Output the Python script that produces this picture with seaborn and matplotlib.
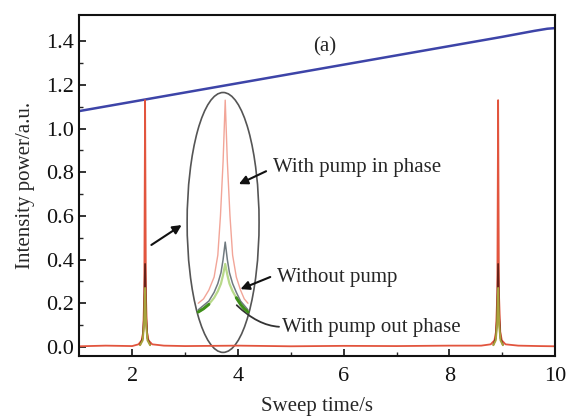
import numpy as np
import pandas as pd
import matplotlib
matplotlib.use("Agg")
import matplotlib.pyplot as plt
import seaborn as sns
from matplotlib.patches import Ellipse, FancyArrowPatch

# ---- data ----
# reference (sweep) line
ref_x = [1.0, 3.0, 5.0, 7.0, 9.0, 9.6, 9.85, 10.0]
ref_y = [1.08, 1.165, 1.25, 1.335, 1.42, 1.447, 1.457, 1.46]

# main trace, with pump in phase (red)
red_x = [1.0, 1.5, 2.0, 2.12, 2.18, 2.21, 2.23, 2.245, 2.26, 2.28, 2.31, 2.38, 2.6, 3.0,
         4.0, 5.0, 6.0, 7.0, 8.0, 8.6, 8.78, 8.85, 8.88, 8.905, 8.92, 8.935, 8.96, 8.99,
         9.06, 9.3, 9.7, 10.0]
red_y = [0.003, 0.006, 0.004, 0.012, 0.03, 0.07, 0.25, 1.13, 0.25, 0.07, 0.03, 0.012, 0.006, 0.004,
         0.006, 0.003, 0.005, 0.004, 0.006, 0.006, 0.012, 0.03, 0.07, 0.25, 1.13, 0.25, 0.07, 0.03,
         0.012, 0.006, 0.004, 0.003]
# without pump (dark)
dark_x = [2.15, 2.2, 2.225, 2.245, 2.265, 2.29, 2.34, 8.83, 8.875, 8.9, 8.92, 8.94, 8.965, 9.01]
dark_y = [0.01, 0.04, 0.13, 0.38, 0.13, 0.04, 0.01, 0.01, 0.04, 0.13, 0.38, 0.13, 0.04, 0.01]
# with pump out phase (green)
green_x = [2.15, 2.2, 2.225, 2.245, 2.265, 2.29, 2.34, 8.83, 8.875, 8.9, 8.92, 8.94, 8.965, 9.01]
green_y = [0.008, 0.03, 0.10, 0.27, 0.10, 0.03, 0.008, 0.008, 0.03, 0.10, 0.27, 0.10, 0.03, 0.008]

# inset (magnified peak inside ellipse)
in_red_x = [3.25, 3.35, 3.45, 3.55, 3.62, 3.67, 3.72, 3.76, 3.80, 3.85, 3.90, 3.97, 4.05, 4.12, 4.19]
in_red_y = [0.20, 0.22, 0.26, 0.32, 0.42, 0.60, 0.85, 1.13, 0.85, 0.60, 0.42, 0.32, 0.26, 0.22, 0.20]
in_dark_x = [3.25, 3.35, 3.45, 3.55, 3.62, 3.68, 3.72, 3.76, 3.80, 3.84, 3.90, 3.97, 4.05, 4.12, 4.19]
in_dark_y = [0.17, 0.19, 0.21, 0.25, 0.29, 0.34, 0.40, 0.48, 0.40, 0.34, 0.29, 0.25, 0.21, 0.19, 0.17]
in_green_x = [3.25, 3.35, 3.45, 3.55, 3.62, 3.68, 3.72, 3.76, 3.80, 3.84, 3.90, 3.97, 4.05, 4.12, 4.19]
in_green_y = [0.16, 0.175, 0.195, 0.225, 0.255, 0.29, 0.33, 0.38, 0.33, 0.29, 0.255, 0.225, 0.195, 0.175, 0.16]

x_ticks = [2, 4, 6, 8, 10]
y_ticks = [0.0, 0.2, 0.4, 0.6, 0.8, 1.0, 1.2, 1.4]

# ---- plot ----
sns.set_theme(style="ticks")
plt.rcParams['font.family'] = ['Liberation Serif', 'DejaVu Serif']
plt.rcParams['mathtext.fontset'] = 'stix'

fig, ax = plt.subplots(figsize=(5.66, 4.16), dpi=100)
fig.subplots_adjust(left=0.14, right=0.981, top=0.964, bottom=0.145)

sns.lineplot(x=ref_x, y=ref_y, ax=ax, color='#3d44a8', lw=1.8, sort=False)
sns.lineplot(x=red_x, y=red_y, ax=ax, color='#e2553e', lw=1.3, sort=False)
sns.lineplot(x=dark_x[:7], y=dark_y[:7], ax=ax, color='#6a2218', lw=1.3, sort=False)
sns.lineplot(x=dark_x[7:], y=dark_y[7:], ax=ax, color='#6a2218', lw=1.3, sort=False)
sns.lineplot(x=green_x[:7], y=green_y[:7], ax=ax, color='#a9a33c', lw=1.4, sort=False)
sns.lineplot(x=green_x[7:], y=green_y[7:], ax=ax, color='#a9a33c', lw=1.4, sort=False)

# inset curves
sns.lineplot(x=in_red_x, y=in_red_y, ax=ax, color='#f2a598', lw=1.0, sort=False)
sns.lineplot(x=in_green_x, y=in_green_y, ax=ax, color='#b8d98a', lw=1.6, sort=False)
sns.lineplot(x=in_dark_x, y=in_dark_y, ax=ax, color='#707a80', lw=1.1, sort=False)
sns.lineplot(x=in_green_x[:3], y=in_green_y[:3], ax=ax, color='#3f8f1a', lw=2.2, sort=False)
sns.lineplot(x=in_green_x[-4:], y=in_green_y[-4:], ax=ax, color='#3f8f1a', lw=2.2, sort=False)

ell = Ellipse((3.72, 0.57), 1.36, 1.19, fill=False, ec='#555555', lw=1.2)
ax.add_patch(ell)

arrow_kw = dict(arrowstyle='-|>', mutation_scale=13, color='#111111', lw=1.5)
ax.add_patch(FancyArrowPatch((2.32, 0.46), (2.98, 0.565), **arrow_kw))
ax.add_patch(FancyArrowPatch((4.58, 0.81), (3.97, 0.74), **arrow_kw))
ax.add_patch(FancyArrowPatch((4.66, 0.325), (4.0, 0.26), **arrow_kw))
ax.add_patch(FancyArrowPatch((4.83, 0.092), (3.94, 0.2), arrowstyle='-',
                             connectionstyle='angle3,angleA=0,angleB=-45',
                             color='#333333', lw=1.3))

fs = 15
ax.text(5.65, 1.375, '(a)', fontsize=fs, ha='center', va='center')
ax.text(4.66, 0.82, 'With pump in phase', fontsize=fs, ha='left', va='center')
ax.text(4.74, 0.32, 'Without pump', fontsize=fs, ha='left', va='center')
ax.text(4.84, 0.088, 'With pump out phase', fontsize=fs, ha='left', va='center')

ax.set_xlim(1, 10)
ax.set_ylim(-0.04, 1.52)
ax.set_xticks(x_ticks)
ax.set_yticks(y_ticks)
ax.set_xticklabels([str(t) for t in x_ticks])
ax.set_yticklabels([f'{t:.1f}' for t in y_ticks])
ax.set_xticks(np.arange(3, 10, 2), minor=True)
ax.set_yticks(np.arange(0.1, 1.5, 0.2), minor=True)
ax.tick_params(axis='both', which='major', direction='in', length=5, width=1.2,
               labelsize=16, colors='#111111')
ax.tick_params(axis='x', which='major', pad=8)
ax.tick_params(axis='both', which='minor', direction='in', length=3, width=1.0)
for s in ax.spines.values():
    s.set_linewidth(1.5)
    s.set_color('#111111')
ax.set_xlabel('Sweep time/s', fontsize=15, labelpad=8)
ax.set_ylabel('Intensity power/a.u.', fontsize=15, labelpad=8)

fig.savefig('out.png', dpi=100)
